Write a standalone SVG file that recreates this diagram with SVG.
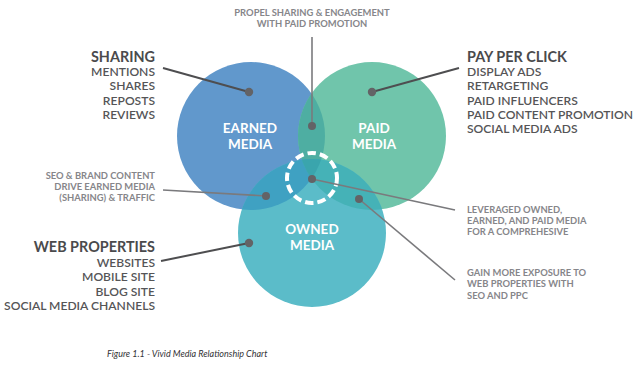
<svg xmlns="http://www.w3.org/2000/svg" width="640" height="371" viewBox="0 0 640 371">
<style>
text{font-family:Lato,"Open Sans","Liberation Sans",sans-serif}
.h{font-size:14.4px;font-weight:bold;fill:#4a4a4c}
.li{font-size:12.1px;font-weight:600;fill:#555557}
.sm{font-size:9.4px;font-weight:bold;fill:#86868a}
.in{font-size:13.5px;font-weight:bold;fill:#ffffff;text-anchor:middle}
.r{text-anchor:end}
.dk{stroke:#4e4e50;stroke-width:2;fill:none}
.gr{stroke:#7a7a7d;stroke-width:1.6;fill:none}
.dot{fill:#636366}
</style>
<defs>
<clipPath id="cE"><circle cx="251" cy="136" r="74"/></clipPath>
<clipPath id="cP"><circle cx="372" cy="136" r="74"/></clipPath>
<clipPath id="cO"><circle cx="312" cy="233" r="74"/></clipPath>
</defs>
<rect width="640" height="371" fill="#ffffff"/>
<g id="earned">
<circle cx="251" cy="136" r="74" fill="#6198cc"/>
</g>
<g id="paid">
<circle cx="372" cy="136" r="74" fill="#70c5ab"/>
</g>
<g id="owned">
<circle cx="312" cy="233" r="74" fill="#5bbcc9"/>
</g>
<g id="overlaps">
<circle cx="372" cy="136" r="74" fill="#4eaea2" clip-path="url(#cE)"/>
<circle cx="312" cy="233" r="74" fill="#3fa1c2" clip-path="url(#cE)"/>
<circle cx="312" cy="233" r="74" fill="#45b2b7" clip-path="url(#cP)"/>
<g clip-path="url(#cE)"><circle cx="372" cy="136" r="74" fill="#3aa5ad" clip-path="url(#cO)"/></g>
</g>
<g id="center">
<circle cx="312" cy="178" r="25" fill="none" stroke="#ffffff" stroke-width="4" stroke-dasharray="8.5 4"/>
</g>
<g id="labels-in">
<text class="in" x="250" y="133">EARNED</text>
<text class="in" x="250" y="149">MEDIA</text>
<text class="in" x="374" y="133">PAID</text>
<text class="in" x="374" y="149">MEDIA</text>
<text class="in" x="312" y="234">OWNED</text>
<text class="in" x="312" y="250">MEDIA</text>
</g>
<g id="connectors">
<line class="dk" x1="163" y1="68" x2="249" y2="92"/>
<line class="dk" x1="459" y1="68" x2="372" y2="92"/>
<line class="dk" x1="161" y1="261" x2="249" y2="243"/>
<line class="gr" x1="312" y1="37" x2="312" y2="126"/>
<line class="gr" x1="163" y1="190" x2="266" y2="196"/>
<line class="gr" x1="312" y1="179" x2="455" y2="210"/>
<line class="gr" x1="359" y1="199" x2="455" y2="280"/>
<circle class="dot" cx="249" cy="92" r="4.2"/>
<circle class="dot" cx="372" cy="92" r="4.2"/>
<circle class="dot" cx="249" cy="243" r="4.2"/>
<circle class="dot" cx="312" cy="126" r="4"/>
<circle class="dot" cx="266" cy="196" r="4"/>
<circle class="dot" cx="312" cy="179" r="4"/>
<circle class="dot" cx="359" cy="199" r="4"/>
</g>
<g id="propel">
<text class="sm" x="312" y="16" text-anchor="middle">PROPEL SHARING &amp; ENGAGEMENT</text>
<text class="sm" x="312" y="27" text-anchor="middle">WITH PAID PROMOTION</text>
</g>
<g id="sharing">
<text class="h r" x="155" y="62">SHARING</text>
<text class="li r" x="155" y="76">MENTIONS</text>
<text class="li r" x="155" y="90">SHARES</text>
<text class="li r" x="155" y="105">REPOSTS</text>
<text class="li r" x="155" y="119">REVIEWS</text>
</g>
<g id="ppc">
<text class="h" x="467" y="62">PAY PER CLICK</text>
<text class="li" x="467" y="76">DISPLAY ADS</text>
<text class="li" x="467" y="90">RETARGETING</text>
<text class="li" x="467" y="105">PAID INFLUENCERS</text>
<text class="li" x="467" y="119">PAID CONTENT PROMOTION</text>
<text class="li" x="467" y="133">SOCIAL MEDIA ADS</text>
</g>
<g id="seo">
<text class="sm r" x="155" y="179">SEO &amp; BRAND CONTENT</text>
<text class="sm r" x="155" y="190">DRIVE EARNED MEDIA</text>
<text class="sm r" x="155" y="201">(SHARING) &amp; TRAFFIC</text>
</g>
<g id="web">
<text class="h r" x="155" y="252">WEB PROPERTIES</text>
<text class="li r" x="155" y="267">WEBSITES</text>
<text class="li r" x="155" y="281">MOBILE SITE</text>
<text class="li r" x="155" y="296">BLOG SITE</text>
<text class="li r" x="155" y="310">SOCIAL MEDIA CHANNELS</text>
</g>
<g id="leveraged">
<text class="sm" x="467" y="213">LEVERAGED OWNED,</text>
<text class="sm" x="467" y="224">EARNED, AND PAID MEDIA</text>
<text class="sm" x="467" y="235">FOR A COMPREHESIVE</text>
</g>
<g id="gain">
<text class="sm" x="467" y="276">GAIN MORE EXPOSURE TO</text>
<text class="sm" x="467" y="287">WEB PROPERTIES WITH</text>
<text class="sm" x="467" y="299">SEO AND PPC</text>
</g>
<text x="107" y="357" font-size="9" font-style="italic" fill="#333336">Figure 1.1 - Vivid Media Relationship Chart</text>
</svg>
